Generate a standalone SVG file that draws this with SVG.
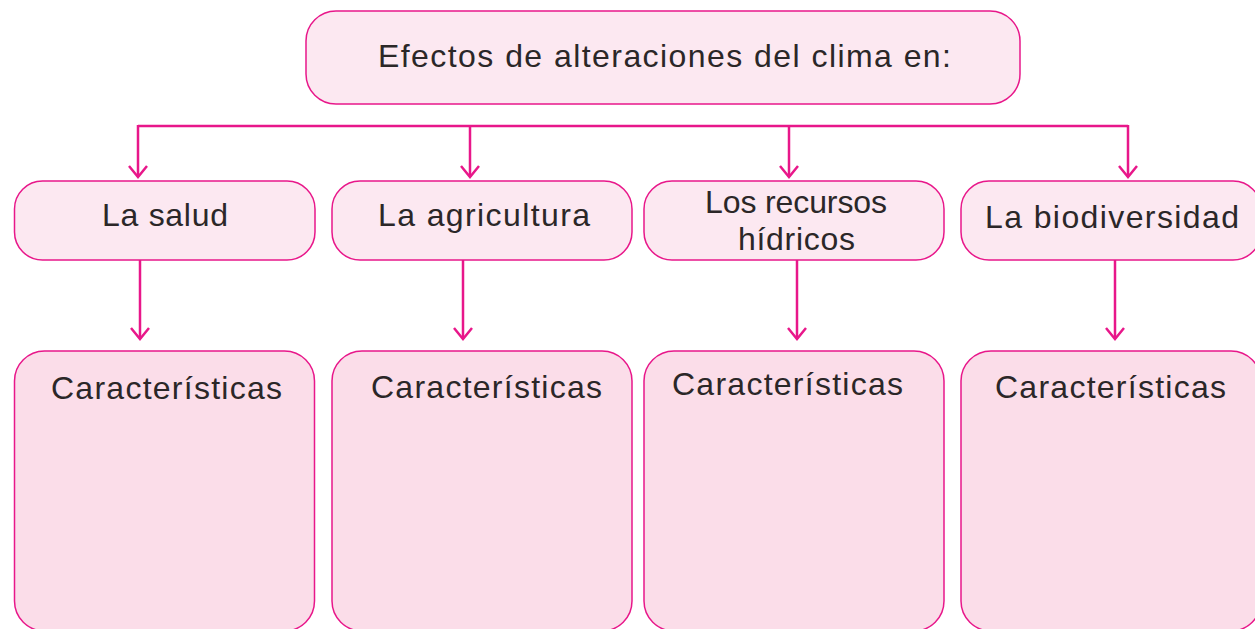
<svg xmlns="http://www.w3.org/2000/svg" width="1255" height="629" viewBox="0 0 1255 629">
<style>
.box{stroke:#E8178A;stroke-width:1.5}
.hdr{fill:#FCE8F1}
.cell{fill:#FBDDE9}
.t{font-family:"Liberation Sans",Arial,sans-serif;font-size:32px;fill:#2B2728;text-anchor:middle}
.c{fill:none;stroke:#E8178A;stroke-width:2.5}
</style>
<defs>
<marker id="ah" markerUnits="userSpaceOnUse" markerWidth="30" markerHeight="30" refX="0" refY="0" viewBox="-15 -15 30 30" orient="auto" overflow="visible">
<path d="M-11,-9 L0,0 L-11,9" fill="none" stroke="#E8178A" stroke-width="2.5"/>
</marker>
</defs>
<rect width="1255" height="629" fill="#FFFFFF"/>
<g id="connectors">
<path class="c" d="M138,126 H1128"/>
<path class="c" d="M138,125 V177" marker-end="url(#ah)"/>
<path class="c" d="M470,125 V177" marker-end="url(#ah)"/>
<path class="c" d="M789,125 V177" marker-end="url(#ah)"/>
<path class="c" d="M1128,125 V177" marker-end="url(#ah)"/>
<path class="c" d="M140,260 V339" marker-end="url(#ah)"/>
<path class="c" d="M463,260 V339" marker-end="url(#ah)"/>
<path class="c" d="M797,260 V339" marker-end="url(#ah)"/>
<path class="c" d="M1115,260 V339" marker-end="url(#ah)"/>
</g>
<g id="top">
<rect class="box hdr" x="306" y="11" width="714" height="93" rx="30"/>
<text class="t" x="664.5" y="67" textLength="573" lengthAdjust="spacing">Efectos de alteraciones del clima en:</text>
</g>
<g id="salud">
<rect class="box hdr" x="14.5" y="181" width="300.5" height="79" rx="28"/>
<text class="t" x="165" y="226" textLength="126" lengthAdjust="spacing">La salud</text>
</g>
<g id="agricultura">
<rect class="box hdr" x="332" y="181" width="300" height="79" rx="28"/>
<text class="t" x="484" y="226" textLength="212" lengthAdjust="spacing">La agricultura</text>
</g>
<g id="recursos">
<rect class="box hdr" x="644" y="181" width="300" height="79" rx="28"/>
<text class="t" x="796" y="213" textLength="182" lengthAdjust="spacing">Los recursos</text>
<text class="t" x="796.5" y="250" textLength="117" lengthAdjust="spacing">hídricos</text>
</g>
<g id="biodiversidad">
<rect class="box hdr" x="961" y="181" width="300" height="79" rx="28"/>
<text class="t" x="1112" y="228" textLength="254" lengthAdjust="spacing">La biodiversidad</text>
</g>
<g id="car1">
<rect class="box cell" x="14.5" y="351" width="300" height="280" rx="30"/>
<text class="t" x="166.5" y="399" textLength="231" lengthAdjust="spacing">Características</text>
</g>
<g id="car2">
<rect class="box cell" x="332" y="351" width="300" height="280" rx="30"/>
<text class="t" x="486.5" y="398" textLength="231" lengthAdjust="spacing">Características</text>
</g>
<g id="car3">
<rect class="box cell" x="644" y="351" width="300" height="280" rx="30"/>
<text class="t" x="787.5" y="395" textLength="231" lengthAdjust="spacing">Características</text>
</g>
<g id="car4">
<rect class="box cell" x="961" y="351" width="300" height="280" rx="30"/>
<text class="t" x="1110.5" y="398" textLength="231" lengthAdjust="spacing">Características</text>
</g>
</svg>
